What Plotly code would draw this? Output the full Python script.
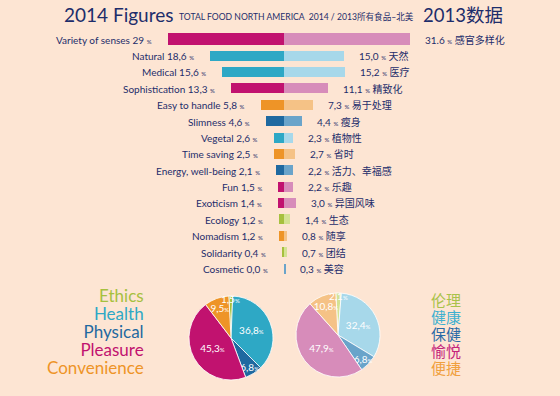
import math
import plotly.graph_objects as go

# ---------------- data ----------------
items = ["Variety of senses", "Natural", "Medical", "Sophistication", "Easy to handle",
         "Slimness", "Vegetal", "Time saving", "Energy, well-being", "Fun",
         "Exoticism", "Ecology", "Nomadism", "Solidarity", "Cosmetic"]
items_cn = ["感官多样化", "天然", "医疗", "精致化", "易于处理", "瘦身", "植物性", "省时",
            "活力、幸福感", "乐趣", "异国风味", "生态", "随享", "团结", "美容"]
item_group = ["Pleasure", "Health", "Health", "Pleasure", "Convenience",
              "Physical", "Health", "Convenience", "Physical", "Pleasure",
              "Pleasure", "Ethics", "Convenience", "Ethics", "Physical"]
v2014 = [29.0, 18.6, 15.6, 13.3, 5.8, 4.6, 2.6, 2.5, 2.1, 1.5, 1.4, 1.2, 1.2, 0.4, 0.0]
v2013 = [31.6, 15.0, 15.2, 11.1, 7.3, 4.4, 2.3, 2.7, 2.2, 2.2, 3.0, 1.4, 0.8, 0.7, 0.3]
lbl2014 = ["29", "18,6", "15,6", "13,3", "5,8", "4,6", "2,6", "2,5", "2,1", "1,5",
           "1,4", "1,2", "1,2", "0,4", "0,0"]
lbl2013 = ["31.6", "15,0", "15,2", "11,1", "7,3", "4,4", "2,3", "2,7", "2,2", "2,2",
           "3,0", "1,4", "0,8", "0,7", "0,3"]

groups = ["Ethics", "Health", "Physical", "Pleasure", "Convenience"]
groups_cn = ["伦理", "健康", "保健", "愉悦", "便捷"]
pie2014 = [1.5, 36.8, 6.8, 45.3, 9.5]
pie2013 = [2.1, 32.4, 6.8, 47.9, 10.8]

# ---------------- styles ----------------
W, H = 560, 396
BG = "#fde5d3"
NAVY = "#1d2d6b"
dark = {"Ethics": "#a6c03e", "Health": "#2ea8c5", "Physical": "#1f69a0",
        "Pleasure": "#c1126f", "Convenience": "#ee9427"}
light = {"Ethics": "#d4e294", "Health": "#a7d8ea", "Physical": "#6aa4ca",
         "Pleasure": "#d78cba", "Convenience": "#f5c286"}
legend_cn_col = {"Ethics": "#a9c24a", "Health": "#3fb0d0", "Physical": "#2a6aa6",
                 "Pleasure": "#c4247b", "Convenience": "#f0a03e"}
FONT = "Lato, 'Noto Sans CJK SC', sans-serif"
PCT = "<span style='font-size:6px'>%</span>"
ROT = -3

widths = [0.73] + [0.61] * (len(items) - 1)

fig = go.Figure()
fig.add_trace(go.Bar(
    y=items, x=[-v for v in v2014], orientation="h",
    marker=dict(color=[dark[g] for g in item_group], line=dict(width=0)),
    width=widths, hoverinfo="skip", showlegend=False))
fig.add_trace(go.Bar(
    y=items, x=v2013, orientation="h",
    marker=dict(color=[light[g] for g in item_group], line=dict(width=0)),
    width=widths, hoverinfo="skip", showlegend=False))

ann = []
for name, cn, a, b, la, lb in zip(items, items_cn, v2014, v2013, lbl2014, lbl2013):
    ann.append(dict(x=-a, y=name, xref="x", yref="y", xanchor="right", yanchor="middle",
                    xshift=-14, showarrow=False,
                    text=f"{name} {la} {PCT}",
                    font=dict(family=FONT, size=10, color=NAVY)))
    ann.append(dict(x=b, y=name, xref="x", yref="y", xanchor="left", yanchor="middle",
                    xshift=13, showarrow=False,
                    text=f"{lb} {PCT} {cn}",
                    font=dict(family=FONT, size=10, color=NAVY)))

# titles
ann.append(dict(x=62 / W, y=1 - 15 / H, xref="paper", yref="paper", xanchor="left",
                yanchor="middle", showarrow=False, text="2014 Figures",
                font=dict(family=FONT, size=19, color=NAVY)))
ann.append(dict(x=177 / W, y=1 - 16 / H, xref="paper", yref="paper", xanchor="left",
                yanchor="middle", showarrow=False,
                text="TOTAL FOOD NORTH AMERICA  2014 / 2013所有食品–北美",
                font=dict(family=FONT, size=8.6, color=NAVY)))
ann.append(dict(x=421 / W, y=1 - 15 / H, xref="paper", yref="paper", xanchor="left",
                yanchor="middle", showarrow=False, text="2013数据",
                font=dict(family=FONT, size=18.5, color=NAVY)))

# group legends (one multi-line text block each side)
en_text = "<br>".join(f"<span style='font-size:17px;color:{dark[g]}'>{g}</span>"
                      for g in groups)
cn_text = "<br>".join(f"<span style='font-size:15px;color:{legend_cn_col[g]}'>{gc}</span>"
                      for g, gc in zip(groups, groups_cn))
ann.append(dict(x=146 / W, y=1 - 331 / H, xref="paper", yref="paper",
                xanchor="right", yanchor="middle", align="right", showarrow=False,
                text=en_text, font=dict(family=FONT, size=13.9, color=NAVY)))
ann.append(dict(x=429 / W, y=1 - 333 / H, xref="paper", yref="paper",
                xanchor="left", yanchor="middle", align="left", showarrow=False,
                text=cn_text, font=dict(family="'Noto Sans CJK SC'", size=13.1, color=NAVY)))

def fmt(v):
    return f"{v:.1f}".replace(".", ",")

pie_dom = [dict(x=[189 / W, 273 / W], y=[16 / H, 100 / H]),
           dict(x=[296 / W, 380 / W], y=[19 / H, 103 / H])]

for vals, cols, dom in [(pie2014, dark, pie_dom[0]), (pie2013, light, pie_dom[1])]:
    txt = [fmt(v) for v in vals]
    tmpl = ["" if g == "Ethics" else "%{text}" + PCT for g in groups]
    fig.add_trace(go.Pie(
        values=vals, labels=groups, text=txt,
        texttemplate=tmpl, textinfo="text", textposition="inside",
        insidetextorientation="horizontal", sort=False, direction="clockwise",
        rotation=ROT,
        marker=dict(colors=[cols[g] for g in groups], line=dict(color="white", width=0.8)),
        textfont=dict(family=FONT, size=10, color="white"),
        domain=dom, hoverinfo="skip", showlegend=False))
    # label of the thin "Ethics" slice, placed at the slice's mid angle near the rim
    total = sum(vals)
    mid = math.radians(ROT + 0.5 * vals[0] / total * 360)
    cx = (dom["x"][0] + dom["x"][1]) / 2 * W
    cy = (1 - (dom["y"][0] + dom["y"][1]) / 2) * H
    r = (dom["x"][1] - dom["x"][0]) * W / 2
    px, py = cx + 0.93 * r * math.sin(mid), cy - 0.93 * r * math.cos(mid)
    ann.append(dict(x=px / W, y=1 - py / H, xref="paper", yref="paper",
                    xanchor="center", yanchor="middle", showarrow=False,
                    text=txt[0] + PCT,
                    font=dict(family=FONT, size=10, color="white")))

fig.update_layout(
    width=W, height=H, margin=dict(l=0, r=0, t=0, b=0),
    paper_bgcolor=BG, plot_bgcolor=BG, barmode="overlay", bargap=0,
    uniformtext=dict(minsize=9, mode="show"),
    xaxis=dict(range=[-71, 69], visible=False, fixedrange=True),
    yaxis=dict(range=[14.5, -0.5], visible=False, fixedrange=True,
               domain=[0.300, 0.9207], categoryorder="array", categoryarray=items),
    annotations=ann,
)

fig.write_html("out.html", config={"displayModeBar": False},
               post_script="document.body.style.margin='0';document.body.style.overflow='hidden';")
